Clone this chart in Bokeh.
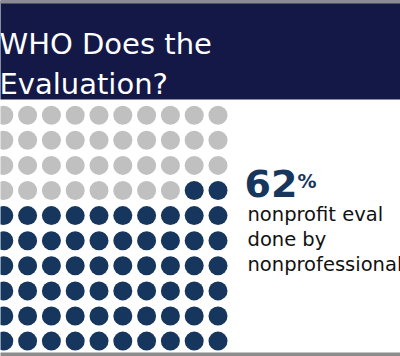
from bokeh.plotting import figure
from bokeh.models import Range1d
from bokeh.core.properties import value
from bokeh.embed import file_html
from bokeh.resources import INLINE

# ---- data ----
title_lines = ["WHO Does the", "Evaluation?"]
percent = 62
total = 100
n_cols = 10
n_rows = 10
stat_number = "62"
stat_suffix = "%"
caption_lines = ["nonprofit eval", "done by", "nonprofessionals"]
colors = ["#C0C0C0", "#17365D"]  # rest, highlighted

# ---- layout helpers (pixel -> data) ----
W, H = 400, 356
X0, DX = 3.3, 23.8     # first column centre, column spacing (px)
Y0, DY = 114.7, 25.1   # first row centre, row spacing (px)


def dx(px):
    return (px - X0) / DX


def dy(py):
    return (py - Y0) / DY


p = figure(width=W, height=H, x_range=Range1d(dx(0), dx(W)), y_range=Range1d(dy(H), dy(0)),
           x_axis_type=None, y_axis_type=None, toolbar_location=None, output_backend="svg",
           min_border=0, min_border_left=0, min_border_right=0, min_border_top=0, min_border_bottom=0)
p.outline_line_color = None
p.background_fill_color = "white"
p.border_fill_color = "white"
p.grid.visible = False

# header band
p.quad(left=[dx(-5)], right=[dx(W + 5)], top=[dy(-5)], bottom=[dy(99)], fill_color="#131846", line_color=None)
p.quad(left=[dx(-5)], right=[dx(W + 5)], top=[dy(-5)], bottom=[dy(3)], fill_color="#8C8C8C", line_color=None)
p.quad(left=[dx(-5)], right=[dx(W + 5)], top=[dy(352)], bottom=[dy(H + 5)], fill_color="#8C8C8C", line_color=None)

# waffle
n_rest = total - percent
xs, ys, cs = [], [], []
for k in range(total):
    r, c = divmod(k, n_cols)
    xs.append(c)
    ys.append(r)
    cs.append(colors[0] if k < n_rest else colors[1])
p.scatter(x=xs, y=ys, size=19, fill_color=cs, line_color=None)

# title
p.text(x=[dx(-1)] * 2, y=[dy(43), dy(83)], text=title_lines, text_font=value("DejaVu Sans"),
       text_font_size="29px", text_color="white", text_baseline="alphabetic", text_align="left")

# stat
p.text(x=[dx(244)], y=[dy(183)], text=[stat_number], text_font=value("DejaVu Sans"), text_font_style="bold",
       text_font_size="38px", text_color=colors[1], text_baseline="alphabetic", text_align="left")
p.text(x=[dx(297)], y=[dy(180)], text=[stat_suffix], text_font=value("DejaVu Sans"), text_font_style="bold",
       text_font_size="19px", text_color=colors[1], text_baseline="alphabetic", text_align="left")

# caption
p.text(x=[dx(247)] * 3, y=[dy(214), dy(239), dy(263.5)], text=caption_lines, text_font=value("DejaVu Sans"),
       text_font_size="19.5px", text_color="#111111", text_baseline="alphabetic", text_align="left")

open("out.html", "w").write(file_html(p, INLINE))
